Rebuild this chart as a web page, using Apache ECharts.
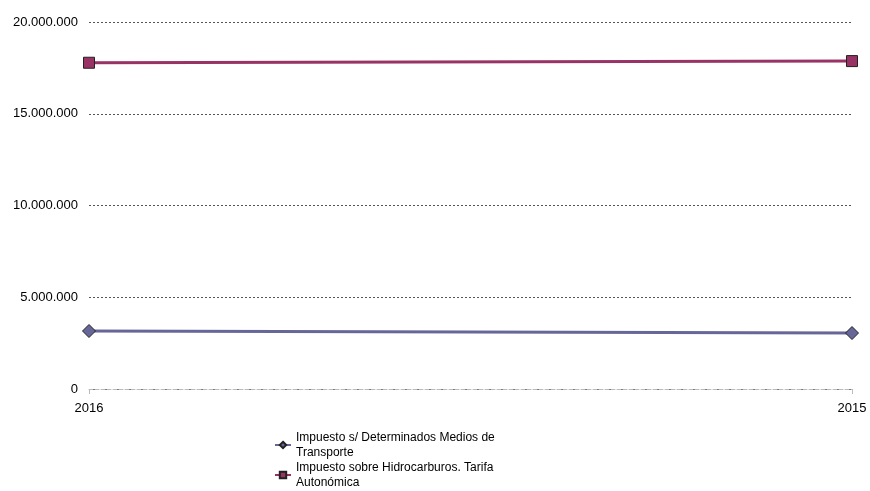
<!DOCTYPE html>
<html><head><meta charset="utf-8">
<script src="https://cdn.jsdelivr.net/npm/echarts@6/dist/echarts.min.js"></script>
<style>html,body{margin:0;padding:0;background:#fff}#c{width:870px;height:491px}</style>
</head><body><div id="c"></div>
<script>
const categories = ['2016', '2015'];
const seriesNames = ['Impuesto s/ Determinados Medios de Transporte', 'Impuesto sobre Hidrocarburos. Tarifa Autonómica'];
const transporte = [3160000, 3050000];
const hidrocarburos = [17780000, 17870000];
const yTicks = [0, 5000000, 10000000, 15000000, 20000000];

function fmt(v){ return String(v).replace(/\B(?=(\d{3})+(?!\d))/g, '.'); }

const chart = echarts.init(document.getElementById('c'));
chart.setOption({
  animation: false,
  grid: {left: 89, right: 18, top: 22, bottom: 102},
  xAxis: {
    type: 'category', data: categories, boundaryGap: false,
    axisLine: {lineStyle: {color: '#bbb', type: 'dashed'}},
    axisTick: {show: true, length: 5, lineStyle: {color: '#bbb'}},
    axisLabel: {color: '#000', fontFamily: 'Arial, Liberation Sans', fontSize: 13, margin: 13}
  },
  yAxis: {
    type: 'value', min: yTicks[0], max: yTicks[yTicks.length-1], interval: 5000000,
    axisLine: {show: false}, axisTick: {show: false},
    splitLine: {lineStyle: {color: '#555', type: [2, 2], width: 1}},
    axisLabel: {color: '#000', fontFamily: 'Arial, Liberation Sans', fontSize: 13, margin: 11, formatter: fmt}
  },
  legend: {
    orient: 'vertical', left: 274, top: 430, itemGap: 0, itemWidth: 16, itemHeight: 8,
    data: seriesNames,
    textStyle: {color: '#000', fontFamily: 'Arial, Liberation Sans', fontSize: 12, width: 205, overflow: 'break', lineHeight: 15},
    padding: 0
  },
  series: [
    {name: seriesNames[0], type: 'line', data: transporte, symbol: 'diamond', symbolSize: 13,
     lineStyle: {color: '#666699', width: 3}, itemStyle: {color: '#666699', borderColor: '#222', borderWidth: 1}},
    {name: seriesNames[1], type: 'line', data: hidrocarburos, symbol: 'rect', symbolSize: 11,
     lineStyle: {color: '#993366', width: 3}, itemStyle: {color: '#993366', borderColor: '#222', borderWidth: 1}}
  ]
});
</script></body></html>
